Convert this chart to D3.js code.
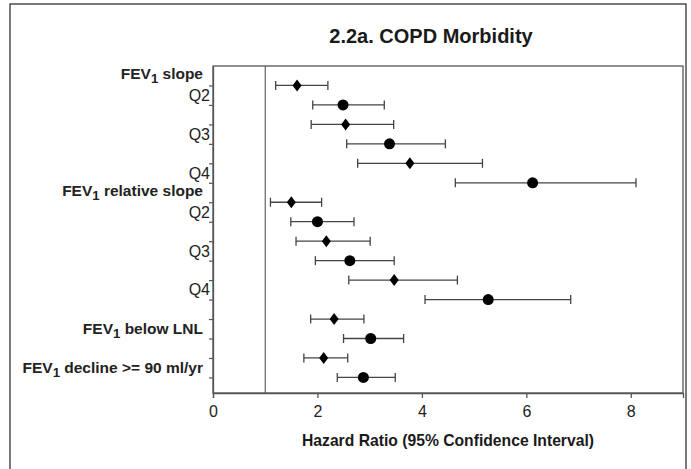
<!DOCTYPE html>
<html>
<head>
<meta charset="utf-8">
<script src="https://cdn.jsdelivr.net/npm/d3@7"></script>
<style>
  html, body { margin: 0; padding: 0; background: #fff; }
  svg { display: block; font-family: "Liberation Sans", Arial, sans-serif; }
</style>
</head>
<body>
<svg id="chart" width="691" height="469"></svg>
<script>
// Row labels, top to bottom (one row per comparison, two estimates each)
const categories = ["Q2", "Q3", "Q4", "Q2", "Q3", "Q4", "FEV1 below LNL", "FEV1 decline >= 90 ml/yr"];
const categoryBold = [false, false, false, false, false, false, true, true];
// Group headings placed above the row with the given index
const groupHeadings = [
  { before: 0, text: "FEV1 slope" },
  { before: 3, text: "FEV1 relative slope" }
];

// Diamond estimates: hazard ratio with 95% CI
const diamondHR = [1.61, 2.54, 3.77, 1.50, 2.17, 3.47, 2.32, 2.12];
const diamondLo = [1.20, 1.88, 2.77, 1.10, 1.59, 2.60, 1.87, 1.74];
const diamondHi = [2.20, 3.46, 5.16, 2.08, 3.01, 4.68, 2.89, 2.58];

// Circle estimates: hazard ratio with 95% CI
const circleHR = [2.49, 3.38, 6.12, 2.00, 2.62, 5.27, 3.02, 2.88];
const circleLo = [1.91, 2.56, 4.64, 1.49, 1.96, 4.06, 2.50, 2.38];
const circleHi = [3.28, 4.45, 8.10, 2.70, 3.47, 6.85, 3.65, 3.49];

const xTicks = [0, 2, 4, 6, 8];
const referenceHR = 1;
const title = "2.2a. COPD Morbidity";
const xTitle = "Hazard Ratio (95% Confidence Interval)";

const svg = d3.select("#chart");
const plot = { left: 213, right: 683, top: 66, bottom: 393 };

const x = d3.scaleLinear().domain([0, 9]).range([plot.left, plot.right]);
const y = d3.scaleLinear().domain([-0.75, 7.65]).range([plot.top, plot.bottom]);
const rowOffset = 0.25;

// outer panel border
svg.append("rect")
  .attr("x", 10).attr("y", 4).attr("width", 676).attr("height", 520)
  .attr("fill", "none").attr("stroke", "#333").attr("stroke-width", 1.3);

// title
svg.append("text")
  .attr("x", 431).attr("y", 43)
  .attr("text-anchor", "middle")
  .attr("font-size", 20).attr("font-weight", "bold").attr("fill", "#1a1a1a")
  .text(title);

// plot frame
svg.append("rect")
  .attr("x", plot.left).attr("y", plot.top)
  .attr("width", plot.right - plot.left).attr("height", plot.bottom - plot.top)
  .attr("fill", "none").attr("stroke", "#555").attr("stroke-width", 1.3);

// reference line at HR = 1
svg.append("line")
  .attr("x1", x(referenceHR)).attr("x2", x(referenceHR))
  .attr("y1", plot.top).attr("y2", plot.bottom)
  .attr("stroke", "#555").attr("stroke-width", 1.1);

// x axis
const xAxis = svg.append("g")
  .attr("transform", `translate(0,${plot.bottom})`)
  .call(d3.axisBottom(x).tickValues(xTicks).tickFormat(d3.format("d"))
    .tickSize(5).tickSizeOuter(5).tickPadding(8));
xAxis.selectAll("path, line").attr("stroke", "#555").attr("stroke-width", 1.3);
xAxis.selectAll("text").attr("font-size", 16).attr("fill", "#222")
  .attr("font-family", "Liberation Sans, Arial, sans-serif");

svg.append("text")
  .attr("x", 448).attr("y", 446)
  .attr("text-anchor", "middle")
  .attr("font-size", 15.7).attr("font-weight", "bold").attr("fill", "#1a1a1a")
  .text(xTitle);

// y axis: one tick per estimate row
const rowPositions = [];
categories.forEach((c, i) => { rowPositions.push(i - rowOffset, i + rowOffset); });
const yAxis = svg.append("g")
  .attr("transform", `translate(${plot.left},0)`)
  .call(d3.axisLeft(y).tickValues(rowPositions).tickFormat("").tickSize(4).tickSizeOuter(0));
yAxis.select(".domain").attr("stroke", "#555").attr("stroke-width", 1.3);
yAxis.selectAll("line").attr("stroke", "#555").attr("stroke-width", 1.2);

// label writer with subscript for "FEV1"
function writeLabel(sel, str) {
  const m = str.match(/^FEV1(.*)$/);
  if (!m) { sel.text(str); return; }
  sel.append("tspan").text("FEV");
  sel.append("tspan").attr("font-size", "0.85em").attr("dy", 4).text("1");
  sel.append("tspan").attr("dy", -4).text(m[1]);
}

// category labels
categories.forEach((c, i) => {
  const bold = categoryBold[i];
  const t = svg.append("text")
    .attr("x", bold ? 203 : 210)
    .attr("y", y(i)).attr("dy", "0.35em")
    .attr("text-anchor", "end")
    .attr("font-size", bold ? 15.5 : 16)
    .attr("font-weight", bold ? "bold" : "normal")
    .attr("fill", "#222");
  writeLabel(t, c);
});

groupHeadings.forEach(g => {
  const t = svg.append("text")
    .attr("x", 203)
    .attr("y", y(g.before - 0.55)).attr("dy", "0.35em")
    .attr("text-anchor", "end")
    .attr("font-size", 15.5).attr("font-weight", "bold").attr("fill", "#222");
  writeLabel(t, g.text);
});

// estimates
const series = [
  { hr: diamondHR, lo: diamondLo, hi: diamondHi, offset: -rowOffset, shape: "diamond" },
  { hr: circleHR, lo: circleLo, hi: circleHi, offset: rowOffset, shape: "circle" }
];
const capHalf = 4.5;

series.forEach(s => {
  const rows = categories.map((c, i) => ({ i, hr: s.hr[i], lo: s.lo[i], hi: s.hi[i], pos: i + s.offset }));
  const g = svg.append("g");
  const bars = g.selectAll("g.bar").data(rows).join("g").attr("class", "bar");
  bars.append("line")
    .attr("x1", d => x(d.lo)).attr("x2", d => x(d.hi))
    .attr("y1", d => y(d.pos)).attr("y2", d => y(d.pos))
    .attr("stroke", "#444").attr("stroke-width", 1.3);
  bars.append("line")
    .attr("x1", d => x(d.lo)).attr("x2", d => x(d.lo))
    .attr("y1", d => y(d.pos) - capHalf).attr("y2", d => y(d.pos) + capHalf)
    .attr("stroke", "#444").attr("stroke-width", 1.3);
  bars.append("line")
    .attr("x1", d => x(d.hi)).attr("x2", d => x(d.hi))
    .attr("y1", d => y(d.pos) - capHalf).attr("y2", d => y(d.pos) + capHalf)
    .attr("stroke", "#444").attr("stroke-width", 1.3);
  if (s.shape === "circle") {
    bars.append("circle")
      .attr("cx", d => x(d.hr)).attr("cy", d => y(d.pos))
      .attr("r", 5.5).attr("fill", "#000");
  } else {
    bars.append("path")
      .attr("transform", d => `translate(${x(d.hr)},${y(d.pos)})`)
      .attr("d", "M0,-6L4.5,0L0,6L-4.5,0Z")
      .attr("fill", "#000");
  }
});
</script>
</body>
</html>
